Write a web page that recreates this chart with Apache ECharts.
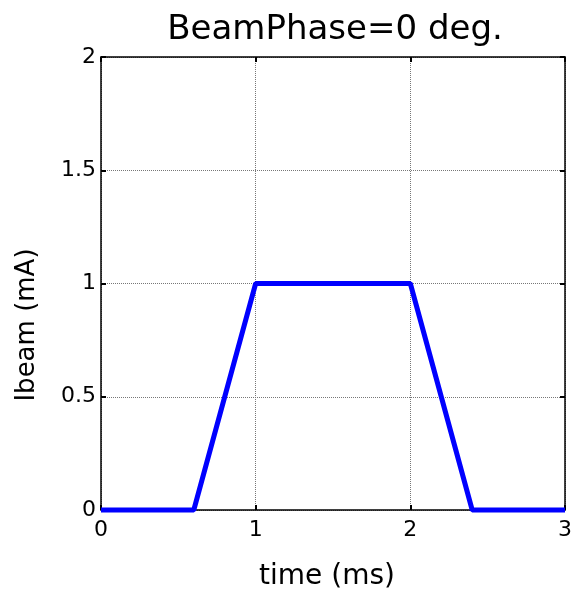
<!DOCTYPE html>
<html><head><meta charset="utf-8">
<script src="https://cdn.jsdelivr.net/npm/echarts@6/dist/echarts.min.js"></script>
<style>html,body{margin:0;padding:0;background:#fff}#c{width:572px;height:593px}</style>
</head><body><div id="c"></div>
<script>
const timeMs = [0, 0.6, 1.0, 2.0, 2.4, 3.0];
const ibeam = [0, 0, 1, 1, 0, 0];
const xTicks = [0, 1, 2, 3];
const yTicks = [0, 0.5, 1, 1.5, 2];
const titleText = 'BeamPhase=0 deg.';
const xName = 'time (ms)';
const yName = 'Ibeam (mA)';

const font = '"DejaVu Sans", sans-serif';
const chart = echarts.init(document.getElementById('c'));
const axisLine = {show: true, onZero: false, lineStyle: {color: '#000', width: 1.5}};
const tick = {show: true, inside: true, length: 5, lineStyle: {color: '#000', width: 2}};
chart.setOption({
  animation: false,
  title: {text: titleText, left: 330, top: 8, textAlign: 'center',
    textStyle: {fontFamily: font, fontSize: 34, fontWeight: 'normal', color: '#000'}},
  graphic: [{
    type: 'text', x: 27, y: 325, rotation: Math.PI / 2,
    style: {text: yName, fontFamily: font, fontSize: 26, fill: '#000',
      textAlign: 'center', textVerticalAlign: 'middle'}
  }, {
    type: 'text', x: 327, y: 577,
    style: {text: xName, fontFamily: font, fontSize: 28, fill: '#000',
      textAlign: 'center', textVerticalAlign: 'middle'}
  }],
  grid: {left: 101, right: 7, top: 57, bottom: 83, containLabel: false, outerBoundsMode: 'none'},
  xAxis: [{
    type: 'value', min: 0, max: 3, interval: 1, position: 'bottom',
    axisLine: axisLine, axisTick: tick,
    axisLabel: {fontFamily: font, fontSize: 22, color: '#000', margin: 9},
    splitLine: {show: true, lineStyle: {color: '#777', type: [1, 1], width: 1}}
  }, {
    type: 'value', min: 0, max: 3, interval: 1, position: 'top',
    axisLine: axisLine, axisTick: tick, axisLabel: {show: false}, splitLine: {show: false}
  }],
  yAxis: [{
    type: 'value', min: 0, max: 2, interval: 0.5, position: 'left',
    axisLine: axisLine, axisTick: tick,
    axisLabel: {fontFamily: font, fontSize: 22, color: '#000', margin: 5,
      formatter: v => String(v)},
    splitLine: {show: true, lineStyle: {color: '#777', type: [1, 1], width: 1}}
  }, {
    type: 'value', min: 0, max: 2, interval: 0.5, position: 'right',
    axisLine: axisLine, axisTick: tick, axisLabel: {show: false}, splitLine: {show: false}
  }],
  series: [{
    type: 'line', data: timeMs.map((t, i) => [t, ibeam[i]]),
    showSymbol: false, lineStyle: {color: '#0000ff', width: 5}, clip: false
  }]
});
</script></body></html>
